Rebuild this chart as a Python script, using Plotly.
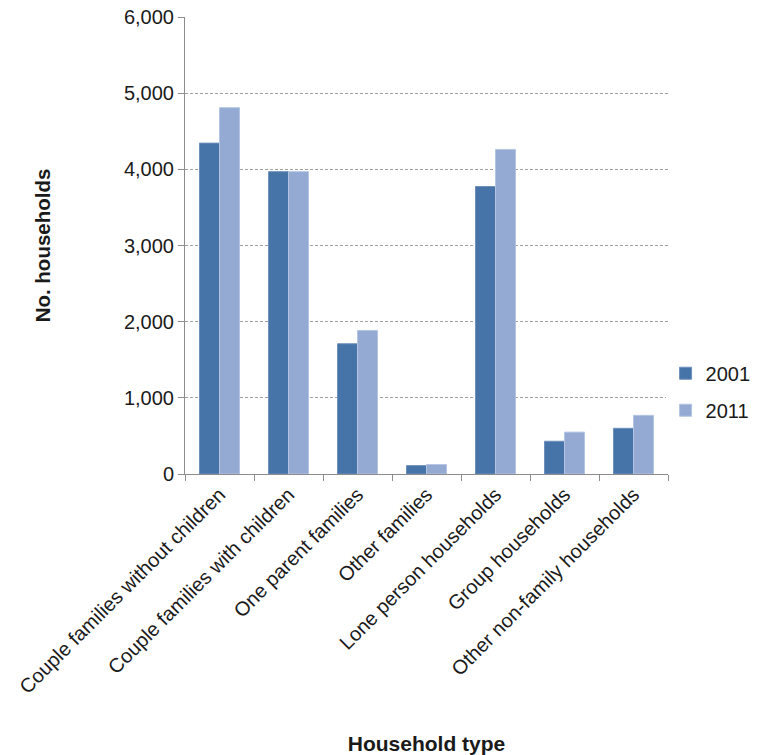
import plotly.graph_objects as go

categories = ["Couple families without children", "Couple families with children",
              "One parent families", "Other families", "Lone person households",
              "Group households", "Other non-family households"]
values_2001 = [4345, 3970, 1710, 110, 3775, 430, 600]
values_2011 = [4810, 3970, 1885, 125, 4262, 550, 770]

FONT = "Liberation Sans, Arial, sans-serif"

fig = go.Figure()
fig.add_trace(go.Bar(name="2001", x=categories, y=values_2001, legendgroup="a",
                     marker=dict(color="#4673A8", line=dict(color="#6f90bb", width=1))))
fig.add_trace(go.Bar(name="2011", x=categories, y=values_2011, legendgroup="b",
                     marker=dict(color="#94AAD3", line=dict(color="#b4c5e3", width=1))))

fig.update_layout(
    width=764, height=755,
    margin=dict(l=185, r=96, t=17, b=281, autoexpand=False),
    paper_bgcolor="white", plot_bgcolor="white",
    barmode="group", bargap=0.42, bargroupgap=0,
    font=dict(family=FONT, size=20, color="#1a1a1a"),
    showlegend=True,
    legend=dict(x=0.995, y=0.18, xanchor="left", yanchor="middle",
                font=dict(size=20), tracegroupgap=8),
)
fig.update_yaxes(range=[0, 6001], dtick=1000, tickformat=",",
                 showgrid=True, gridcolor="#a0a0a0", griddash="3px,2px", gridwidth=1,
                 showline=True, linecolor="#8c8c8c", linewidth=1,
                 ticks="outside", ticklen=6, tickcolor="#8c8c8c",
                 zeroline=False,
                 title=dict(text="<b>No. households</b>", font=dict(size=20.5), standoff=67))
fig.update_xaxes(showline=True, linecolor="#8c8c8c", linewidth=1,
                 ticks="outside", ticklen=6, tickcolor="#8c8c8c", tickson="boundaries",
                 tickangle=-45, showgrid=False,
                 title=dict(text="<b>Household type</b>", font=dict(size=21), standoff=39))

fig.write_html("out.html")
